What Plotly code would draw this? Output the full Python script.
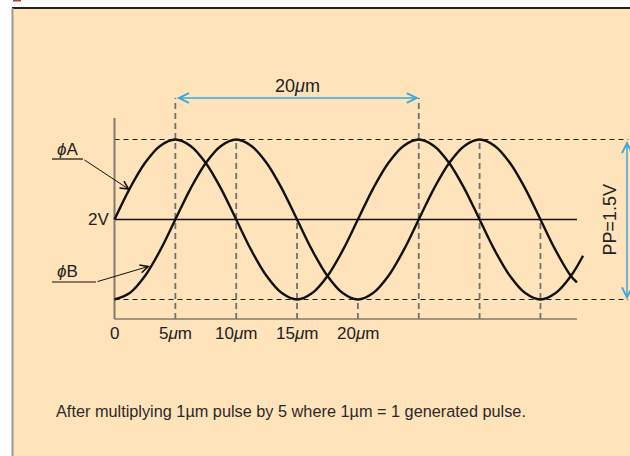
import plotly.graph_objects as go

# ---------------- data ----------------
pos_um = [0, 1.25, 2.5, 3.75, 5, 6.25, 7.5, 8.75, 10, 11.25, 12.5, 13.75, 15, 16.25, 17.5, 18.75,
          20, 21.25, 22.5, 23.75, 25, 26.25, 27.5, 28.75, 30, 31.25, 32.5, 33.75, 35, 36.25, 37.5]
phiA_x = pos_um + [38.5]
phiA_v = [2.00, 2.29, 2.53, 2.69, 2.75, 2.69, 2.53, 2.29, 2.00, 1.71, 1.47, 1.31, 1.25, 1.31, 1.47, 1.71,
          2.00, 2.29, 2.53, 2.69, 2.75, 2.69, 2.53, 2.29, 2.00, 1.71, 1.47, 1.31, 1.25, 1.31, 1.47, 1.66]
phiB_x = pos_um + [38.0]
phiB_v = [1.25, 1.31, 1.47, 1.71, 2.00, 2.29, 2.53, 2.69, 2.75, 2.69, 2.53, 2.29, 2.00, 1.71, 1.47, 1.31,
          1.25, 1.31, 1.47, 1.71, 2.00, 2.29, 2.53, 2.69, 2.75, 2.69, 2.53, 2.29, 2.00, 1.71, 1.47, 1.41]

mid_v = 2.0
high_v = 2.75
low_v = 1.25
tick_vals = [0, 5, 10, 15, 20]
tick_text = ["0", "5<i>μ</i>m", "10<i>μ</i>m", "15<i>μ</i>m", "20<i>μ</i>m"]
guide_x = [5, 10, 15, 20, 25, 30, 35]
guide_top = ["arrow", high_v, mid_v, low_v, "arrow", high_v, mid_v]
span_start, span_end = 5, 25      # the "20μm" span
axis_end_um = 38.0
dash_end_um = 42.2

# ---------------- pixel helpers (layout only) ----------------
W, H = 630, 456
X0, SX = 114.5, 12.17          # px of 0 μm, px per μm
Y0, SY = 219.5, 106.67         # px of 2 V, px per V


def ux(px):
    return (px - X0) / SX


def uy(py):
    return 2 + (Y0 - py) / SY


x_range = [ux(0), ux(W)]
y_range = [uy(H), uy(0)]
arrow_v = uy(98)
axis_bottom_v = uy(319)
axis_top_v = uy(118)

CYAN = "#3aa9d8"
TXT = "#222222"
FONT = "Liberation Sans, Arial, sans-serif"

fig = go.Figure()

for xs, vs in [(phiA_x, phiA_v), (phiB_x, phiB_v)]:
    fig.add_trace(go.Scatter(x=xs, y=vs, mode="lines",
                             line=dict(color="#111111", width=2.4, shape="spline", smoothing=1.0),
                             hoverinfo="skip", showlegend=False))

shapes = []
# panel background and borders
shapes.append(dict(type="rect", xref="paper", yref="paper", x0=12 / W, x1=1, y0=0, y1=(H - 8) / H,
                   fillcolor="#ffe3ba", line=dict(width=0), layer="below"))
shapes.append(dict(type="line", xref="paper", yref="paper", x0=12 / W, x1=1, y0=(H - 8) / H, y1=(H - 8) / H,
                   line=dict(color="#222222", width=2), layer="below"))
shapes.append(dict(type="line", xref="paper", yref="paper", x0=12.5 / W, x1=12.5 / W, y0=0, y1=(H - 8) / H,
                   line=dict(color="#9a9a9a", width=2), layer="below"))
shapes.append(dict(type="rect", xref="paper", yref="paper", x0=13 / W, x1=21 / W, y0=(H - 1.5) / H, y1=1,
                   fillcolor="#c0392b", line=dict(width=0), layer="below"))

# vertical guides
for gx, gt in zip(guide_x, guide_top):
    top = arrow_v if gt == "arrow" else gt
    shapes.append(dict(type="line", xref="x", yref="y", x0=gx, x1=gx, y0=axis_bottom_v, y1=top,
                       line=dict(color="#707070", width=1.8, dash="6px,4px"), layer="below"))
# high / low dashed lines
for v in [high_v, low_v]:
    shapes.append(dict(type="line", xref="x", yref="y", x0=0, x1=dash_end_um, y0=v, y1=v,
                       line=dict(color="#222222", width=1.1, dash="5px,4px"), layer="below"))
# 2V midline
shapes.append(dict(type="line", xref="x", yref="y", x0=0, x1=axis_end_um, y0=mid_v, y1=mid_v,
                   line=dict(color="#111111", width=1.3), layer="below"))
# axes
shapes.append(dict(type="line", xref="x", yref="y", x0=0, x1=0, y0=axis_bottom_v, y1=axis_top_v,
                   line=dict(color="#85796a", width=2), layer="below"))
shapes.append(dict(type="line", xref="x", yref="y", x0=0, x1=axis_end_um, y0=axis_bottom_v, y1=axis_bottom_v,
                   line=dict(color="#85796a", width=1.5), layer="below"))
# label underlines
shapes.append(dict(type="line", xref="x", yref="y", x0=ux(52), x1=ux(83), y0=uy(159), y1=uy(159),
                   line=dict(color="#111111", width=1.2)))
shapes.append(dict(type="line", xref="x", yref="y", x0=ux(52), x1=ux(96), y0=uy(282), y1=uy(282),
                   line=dict(color="#111111", width=1.2)))

annots = []
# tick labels
for tv, tt in zip(tick_vals, tick_text):
    annots.append(dict(x=tv, y=uy(333), xref="x", yref="y", text=tt, showarrow=False,
                       font=dict(size=17, color=TXT, family=FONT), xanchor="center", yanchor="middle"))
# 2V label
annots.append(dict(x=ux(111), y=mid_v, xref="x", yref="y", text="2V", showarrow=False,
                   font=dict(size=17, color=TXT, family=FONT), xanchor="right", yanchor="middle"))
# phi labels
annots.append(dict(x=ux(55), y=uy(149), xref="x", yref="y", text="<i>ϕ</i>A", showarrow=False,
                   font=dict(size=17, color=TXT, family=FONT), xanchor="left", yanchor="middle"))
annots.append(dict(x=ux(55), y=uy(271), xref="x", yref="y", text="<i>ϕ</i>B", showarrow=False,
                   font=dict(size=17, color=TXT, family=FONT), xanchor="left", yanchor="middle"))
# leader arrows
annots.append(dict(x=ux(130), y=uy(190), ax=ux(83), ay=uy(159), xref="x", yref="y", axref="x", ayref="y",
                   text="", showarrow=True, arrowhead=5, arrowsize=1.6, arrowwidth=1, arrowcolor="#111111"))
annots.append(dict(x=ux(150), y=uy(266), ax=ux(96), ay=uy(282), xref="x", yref="y", axref="x", ayref="y",
                   text="", showarrow=True, arrowhead=5, arrowsize=1.6, arrowwidth=1, arrowcolor="#111111"))
# 20 μm span arrow
annots.append(dict(x=span_end, y=arrow_v, ax=span_start, ay=arrow_v, xref="x", yref="y", axref="x", ayref="y",
                   text="", showarrow=True, arrowside="end+start", arrowhead=5, startarrowhead=5,
                   arrowsize=1.3, startarrowsize=1.3, arrowwidth=1.5, arrowcolor=CYAN))
annots.append(dict(x=(span_start + span_end) / 2, y=uy(86), xref="x", yref="y",
                   text=f"{span_end - span_start}<i>μ</i>m", showarrow=False,
                   font=dict(size=18, color=TXT, family=FONT), xanchor="center", yanchor="middle"))
# PP arrow
annots.append(dict(x=ux(627), y=low_v, ax=ux(627), ay=high_v, xref="x", yref="y", axref="x", ayref="y",
                   text="", showarrow=True, arrowside="end+start", arrowhead=5, startarrowhead=5,
                   arrowsize=1.3, startarrowsize=1.3, arrowwidth=1.5, arrowcolor=CYAN))
annots.append(dict(x=ux(609), y=(high_v + low_v) / 2, xref="x", yref="y",
                   text=f"PP={high_v - low_v:g}V", showarrow=False, textangle=-90,
                   font=dict(size=18, color=TXT, family=FONT), xanchor="center", yanchor="middle"))
# caption
annots.append(dict(x=54 / W, y=(H - 411) / H, xref="paper", yref="paper",
                   text="After multiplying 1µm pulse by 5 where 1µm = 1 generated pulse.", showarrow=False,
                   font=dict(size=16.3, color="#2a2a2a", family=FONT), xanchor="left", yanchor="middle"))

fig.update_layout(
    width=W, height=H, margin=dict(l=0, r=0, t=0, b=0),
    paper_bgcolor="white", plot_bgcolor="rgba(0,0,0,0)",
    xaxis=dict(range=x_range, visible=False, fixedrange=True),
    yaxis=dict(range=y_range, visible=False, fixedrange=True),
    shapes=shapes, annotations=annots, showlegend=False,
)

fig.write_html("out.html", config={"displayModeBar": False},
               post_script="document.body.style.margin='0';")
